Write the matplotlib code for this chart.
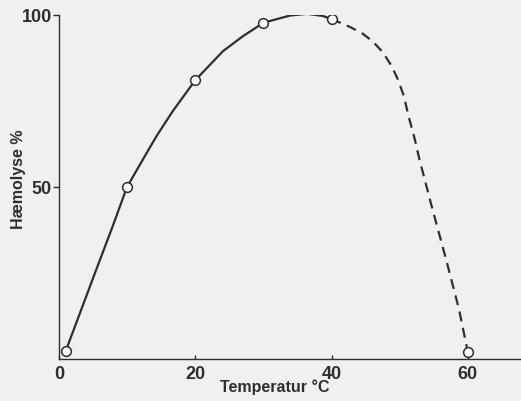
"""Haemolysis vs temperature, redrawn from a scanned figure."""

import matplotlib
matplotlib.use("Agg")
import matplotlib.pyplot as plt

# measured points
temp_pts = [1, 10, 20, 30, 40, 60]
haem_pts = [2.3, 50, 81, 97.7, 98.8, 2.0]

# hand-drawn curve
solid_x = [1, 5.3, 7.9, 10, 11.4, 13.3, 14.4, 16.7, 20, 24.1, 27, 30,
           33.9, 36.4, 38.7, 40]
solid_y = [2.3, 25.0, 38.6, 50, 54.8, 61.3, 65, 72.0, 81, 89.5, 93.8, 97.7,
           99.8, 100.3, 99.7, 98.8]
dash_x = [40, 42.7, 44.6, 46.1, 47.5, 48.8, 49.7, 50.6, 51.3, 52.2, 52.9,
          54.8, 56.8, 58.7, 60]
dash_y = [98.8, 96.5, 94.5, 92.2, 89.2, 85.2, 81.4, 76.5, 70.6, 64, 58,
          43.6, 29, 14.5, 2.0]

x_ticks = [0, 20, 40, 60]
y_ticks = [50, 100]

ink = "#2e2e2e"
paper = "#f0f0f0"

plt.rcParams["font.family"] = ["Liberation Sans", "DejaVu Sans"]
plt.rcParams["font.weight"] = "bold"

fig = plt.figure(figsize=(5.21, 4.02), dpi=100, facecolor=paper)
ax = fig.add_axes([0.113, 0.1045, 0.887, 0.856])
ax.set_facecolor(paper)

ax.plot(solid_x, solid_y, color=ink, lw=1.6, solid_capstyle="round",
        solid_joinstyle="round", zorder=2)
ax.plot(dash_x, dash_y, color=ink, lw=1.6, ls=(0, (4.5, 3)), zorder=2)
ax.plot(temp_pts, haem_pts, ls="none", marker="o", ms=7, mfc="white",
        mec=ink, mew=1.1, zorder=3)

ax.set_xlim(0, 67.8)
ax.set_ylim(0, 100)
for side in ("top", "right"):
    ax.spines[side].set_visible(False)
for side in ("left", "bottom"):
    ax.spines[side].set_color(ink)
    ax.spines[side].set_linewidth(1.0)

ax.set_xticks(x_ticks)
ax.set_xticklabels([str(t) for t in x_ticks])
ax.set_yticks(y_ticks)
ax.set_yticklabels([str(t) for t in y_ticks])
ax.tick_params(axis="x", direction="in", length=3, width=1, color=ink,
               labelsize=13, labelcolor=ink, pad=4)
ax.tick_params(axis="y", direction="out", length=4, width=1, color=ink,
               labelsize=13, labelcolor=ink, pad=1)
for lab in ax.get_xticklabels() + ax.get_yticklabels():
    lab.set_fontweight("bold")

fig.text(0.528, 0.018, "Temperatur °C", ha="center", va="bottom",
         fontsize=11.5, fontweight="bold", color=ink)
fig.text(0.035, 0.555, "Hæmolyse %", ha="center", va="center",
         rotation=90, fontsize=11.5, fontweight="bold", color=ink)

fig.savefig("out.png", dpi=100, facecolor=paper)
plt.close(fig)
